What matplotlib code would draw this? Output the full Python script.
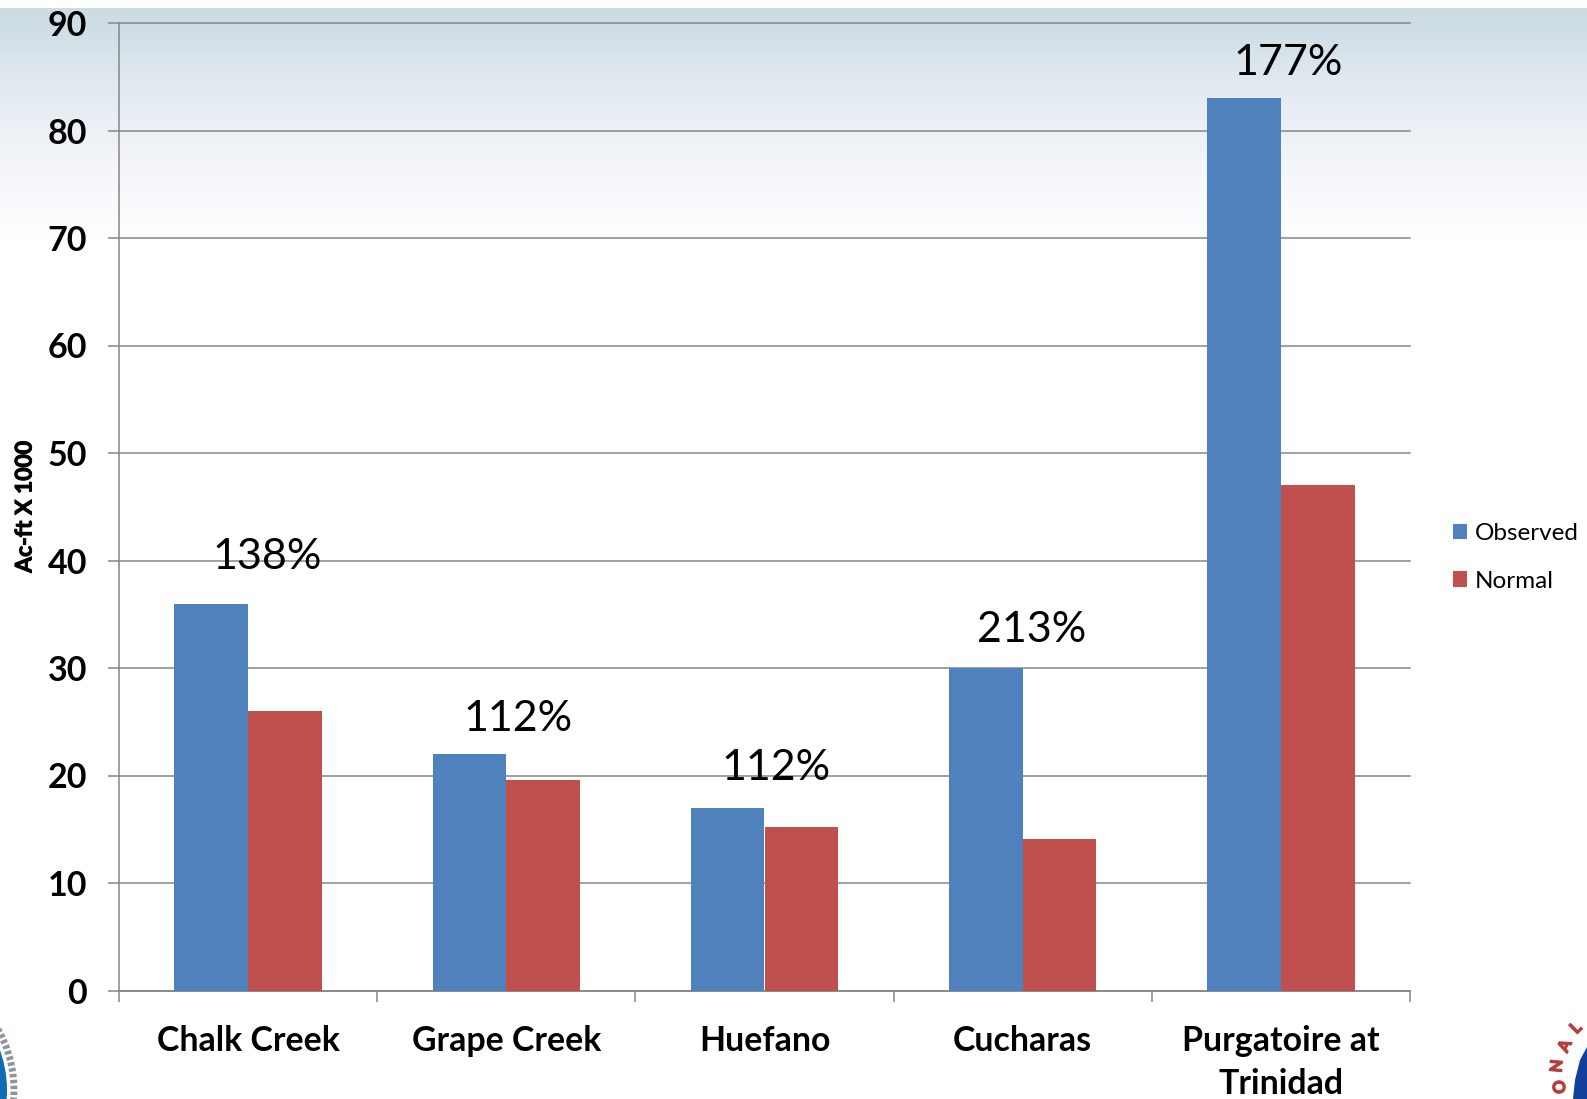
import numpy as np
import matplotlib
matplotlib.use('Agg')
import matplotlib.pyplot as plt
import matplotlib.patheffects as pe
from matplotlib.patches import Circle, Polygon

# Chart values
categories = ['Chalk Creek', 'Grape Creek', 'Huefano', 'Cucharas', 'Purgatoire at\nTrinidad']
observed = [36, 22, 17, 30, 83]
normal = [26, 19.6, 15.2, 14.1, 47]
percent_labels = ['138%', '112%', '112%', '213%', '177%']
y_ticks = [0, 10, 20, 30, 40, 50, 60, 70, 80, 90]

# Where the hand placed percent labels sit (data units)
label_x_shift = [0.075, 0.047, 0.043, 0.035, 0.027]
label_y = [40.3, 25.3, 20.7, 33.5, 86.3]

# Background band at the top of the slide: pixel row, then colour
band_rows = [8, 30, 80, 130, 180, 245]
band_colors = [(205, 219, 227), (208, 222, 231), (224, 233, 239), (236, 241, 246), (246, 248, 251), (255, 255, 255)]

BLUE = '#4F81BD'
RED = '#C0504D'
GREY = '#868686'
W, H = 1587, 1099

plt.rcParams['font.family'] = ['Lato', 'DejaVu Sans']


def main():
    fig = plt.figure(figsize=(W / 100, H / 100), dpi=100, facecolor='white')

    # Backdrop axes in pixel coordinates: gradient band and the two cut off logos
    bg = fig.add_axes([0, 0, 1, 1], zorder=0)
    rows = np.arange(band_rows[0], band_rows[-1])
    strip = np.stack([np.interp(rows, band_rows, [c[i] for c in band_colors]) for i in range(3)], axis=1)
    bg.imshow(strip[:, None, :] / 255, extent=[0, W, band_rows[-1], band_rows[0]], aspect='auto')
    bg.set_xlim(0, W)
    bg.set_ylim(H, 0)
    bg.axis('off')

    bg.add_patch(Circle((-109, 1090), 123, fc='none', ec='#8f949a', lw=5, ls=(0, (0.5, 0.35))))
    bg.add_patch(Circle((-109, 1090), 116, fc='#0f6cb5', ec='none'))
    bg.add_patch(Polygon([(1587, 1047), (1580, 1060), (1575, 1080), (1573, 1099), (1587, 1099)], fc='#123f9a', ec='none'))
    for letter, x, y, rot in [('O', 1560, 1087, 95), ('N', 1557, 1066, 85), ('A', 1565, 1046, 65), ('L', 1576, 1028, 45)]:
        bg.text(x, y, letter, color='#b8403c', fontsize=12, fontweight='bold', rotation=rot, ha='center', va='center',
                path_effects=[pe.withStroke(linewidth=1, foreground='#b8403c')])

    # Main chart axes placed to line up with the reference
    left, right, top, bottom = 119, 1410, 23, 990.5
    ax = fig.add_axes([left / W, 1 - bottom / H, (right - left) / W, (bottom - top) / H], zorder=1)
    ax.patch.set_alpha(0)

    x = np.arange(len(categories))
    bar_w = 1 / 3.5
    ax.bar(x - bar_w / 2, observed, bar_w, color=BLUE, label='Observed', zorder=3)
    ax.bar(x + bar_w / 2, normal, bar_w, color=RED, label='Normal', zorder=3)

    ax.set_xlim(-0.5, len(categories) - 0.5)
    ax.set_ylim(0, 90)
    ax.set_yticks(y_ticks)
    ax.set_xticks(x)
    ax.set_xticklabels(categories, fontsize=24.4, fontweight='bold', linespacing=1.4)
    ax.tick_params(axis='x', length=0, pad=25)
    ax.tick_params(axis='y', length=8, width=1.1, color=GREY, pad=15, labelsize=24.5)
    for lab in ax.get_yticklabels():
        lab.set_fontweight('bold')

    # Category boundary ticks
    ax.set_xticks(np.arange(len(categories) + 1) - 0.5, minor=True)
    ax.tick_params(axis='x', which='minor', length=8, width=1.1, color=GREY)

    ax.grid(axis='y', color=GREY, lw=1.1, zorder=1, clip_on=False)
    ax.set_axisbelow(True)
    for side in ['top', 'right']:
        ax.spines[side].set_visible(False)
    for side in ['left', 'bottom']:
        ax.spines[side].set_color(GREY)
        ax.spines[side].set_linewidth(1.1)

    for i, text in enumerate(percent_labels):
        ax.text(x[i] + label_x_shift[i], label_y[i], text, fontsize=31, ha='center', va='center', color='black', zorder=4)

    fig.text(25 / W, 1 - 507 / H, 'Ac-ft X 1000', rotation=90, fontsize=16.5, fontweight='bold', ha='center', va='center',
             path_effects=[pe.withStroke(linewidth=0.7, foreground='black')])

    ax.legend(loc='center left', bbox_to_anchor=(1453 / W, 1 - 557.5 / H), bbox_transform=fig.transFigure,
              frameon=False, fontsize=17.5, handlelength=0.59, handleheight=0.59, handletextpad=0.29,
              labelspacing=1.08, borderpad=0, borderaxespad=0)

    fig.savefig('out.png', dpi=100)


main()
